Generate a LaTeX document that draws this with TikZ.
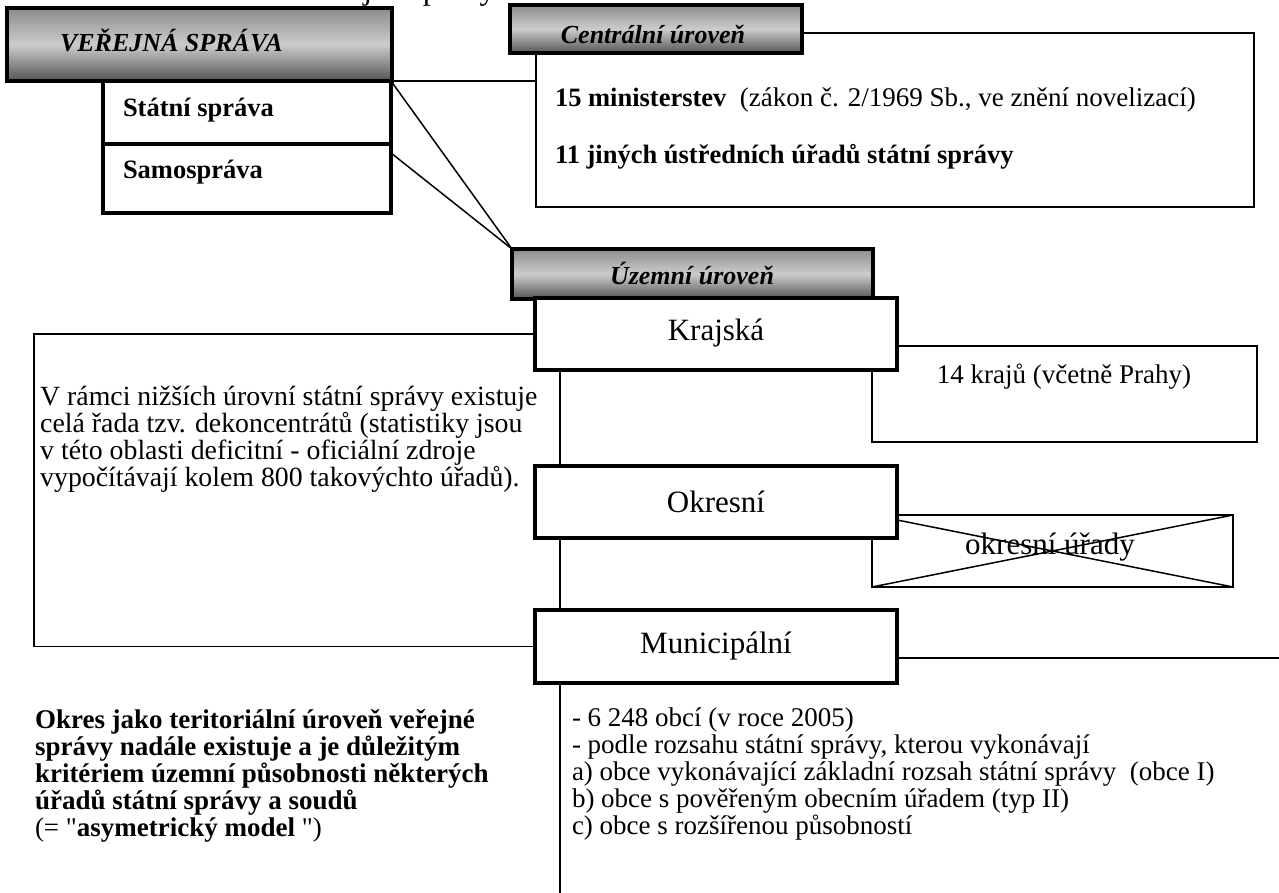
\documentclass[tikz,border=0pt]{standalone}
\usepackage{fontspec}
\setmainfont{Liberation Serif}[Ligatures=TeXOff]
\definecolor{hdrtop}{gray}{0.55}
\definecolor{hdrmid}{gray}{0.80}
\definecolor{hdrbot}{gray}{0.33}
\tikzset{
  hdr/.style={draw=black, line width=4pt, top color=hdrtop, bottom color=hdrbot, middle color=hdrmid, inner sep=0pt, outer sep=0pt},
  thickbox/.style={draw=black, line width=3.8pt, fill=white, inner sep=0pt, outer sep=0pt},
  thinbox/.style={draw=black, line width=1.8pt, fill=white, inner sep=0pt, outer sep=0pt},
  conn/.style={line width=1.5pt},
  tnorm/.style={font=\fontsize{27}{27}\selectfont, inner sep=0pt, outer sep=0pt},
  tbold/.style={font=\fontsize{26.5}{27}\selectfont\bfseries, inner sep=0pt, outer sep=0pt},
  thead/.style={font=\fontsize{26}{27}\selectfont\bfseries\itshape, inner sep=0pt, outer sep=0pt},
  tbig/.style={font=\fontsize{31}{33}\selectfont, inner sep=0pt, outer sep=0pt},
}
\begin{document}
\begin{tikzpicture}[x=1pt,y=-1pt]
\clip (0,0) rectangle (1279,893);
\useasboundingbox (0,0) rectangle (1279,893);

% title of the page, cut off at the top edge as in the reference
\node[font=\fontsize{32}{34}\selectfont, inner sep=0pt, anchor=base west] (title) at (308,0) {veřejné správy};

% central level box (behind header)
\node[thinbox, minimum width=718, minimum height=174] (cbox) at (895,120) {};
\node[tnorm, anchor=west] (cmin) at (555,100) {{\fontsize{26.5}{27}\selectfont\bfseries 15 ministerstev}\ \ (zákon č. 2/1969 Sb., ve znění novelizací)};
\node[tbold, anchor=west] (cust) at (555,157) {11 jiných ústředních úřadů státní správy};

% left side: public administration
\node[hdr, minimum width=385, minimum height=73] (vs) at (199.5,44.5) {};
\node[thead, anchor=west] (vst) at (60,40) {VEŘEJNÁ SPRÁVA};
\node[thickbox, minimum width=288, minimum height=63] (stat) at (247,112.5) {};
\node[tbold, anchor=west] (statt) at (123,110) {Státní správa};
\node[thickbox, minimum width=288, minimum height=69] (sam) at (247,178.5) {};
\node[tbold, anchor=west] (samt) at (123,172) {Samospráva};

\node[hdr, minimum width=292, minimum height=48] (chdr) at (656,29) {};
\node[thead] (chdrt) at (653,34) {Centrální úroveň};

% connector from the left block to the central box
\draw[conn] (vs.south east) -- (vs.south east -| cbox.west);

% territorial level
\node[hdr, minimum width=361, minimum height=50] (uhdr) at (692.5,274) {};
\node[thead] (uhdrt) at (692,273) {Územní úroveň};
\draw[conn] (stat.north east) -- (uhdr.north west);
\draw[conn] ([yshift=-9pt]sam.north east) -- (uhdr.north west);

% 14 kraju box
\node[thinbox, minimum width=385, minimum height=96] (kbox) at (1064.5,394) {};
\node[tnorm] (kboxt) at (1064,377) {14 krajů (včetně Prahy)};

% crossed box
\node[thinbox, minimum width=361, minimum height=72] (obox) at (1052.5,551) {};
\draw[conn] (obox.north west) -- (obox.south east);
\draw[conn] (obox.south west) -- (obox.north east);
\node[tbig] (oboxt) at (1050,547) {okresní úřady};

\coordinate (lefttop) at (34,334);
\coordinate (rend) at (1279,658);
\coordinate (spb) at (560,893);

\node[thickbox, minimum width=362, minimum height=72] (kraj) at (716,334) {};
\node[thickbox, minimum width=362, minimum height=72] (okr) at (716,502) {};
\node[thickbox, minimum width=362, minimum height=73] (muni) at (716,646.5) {};
\node[tbig] (krajt) at (716,333) {Krajská};
\node[tbig] (okrt) at (716,502) {Okresní};
\node[tbig] (munit) at (716,646) {Municipální};

\draw[conn] (kraj.west) -- (lefttop) |- (muni.west);
\draw[conn] (muni.east |- rend) -- (rend);
\draw[conn] (spb |- kraj.south) -- (spb |- okr.north);
\draw[conn] (spb |- okr.south) -- (spb |- muni.north);
\draw[conn] (spb |- muni.south) -- (spb);

\node[font=\fontsize{27.8}{27}\selectfont, inner sep=0pt, anchor=north west, align=left] (dek) at (40,386) {V rámci nižších úrovní státní správy existuje\\celá řada tzv. dekoncentrátů (statistiky jsou\\v této oblasti deficitní - oficiální zdroje\\vypočítávají kolem 800 takovýchto úřadů).};

\node[tbold, font=\fontsize{27}{27.2}\selectfont\bfseries, anchor=north west, align=left] (okres) at (35,709) {Okres jako teritoriální úroveň veřejné\\správy nadále existuje a je důležitým\\kritériem územní působnosti některých\\úřadů státní správy a soudů\\\mdseries (= "\textbf{asymetrický model} ")};

\node[tnorm, anchor=north west, align=left] (obce) at (572,708) {- 6 248 obcí (v roce 2005)\\- podle rozsahu státní správy, kterou vykonávají\\a) obce vykonávající základní rozsah státní správy\ \ (obce I)\\b) obce s pověřeným obecním úřadem (typ II)\\c) obce s rozšířenou působností};
\end{tikzpicture}
\end{document}
